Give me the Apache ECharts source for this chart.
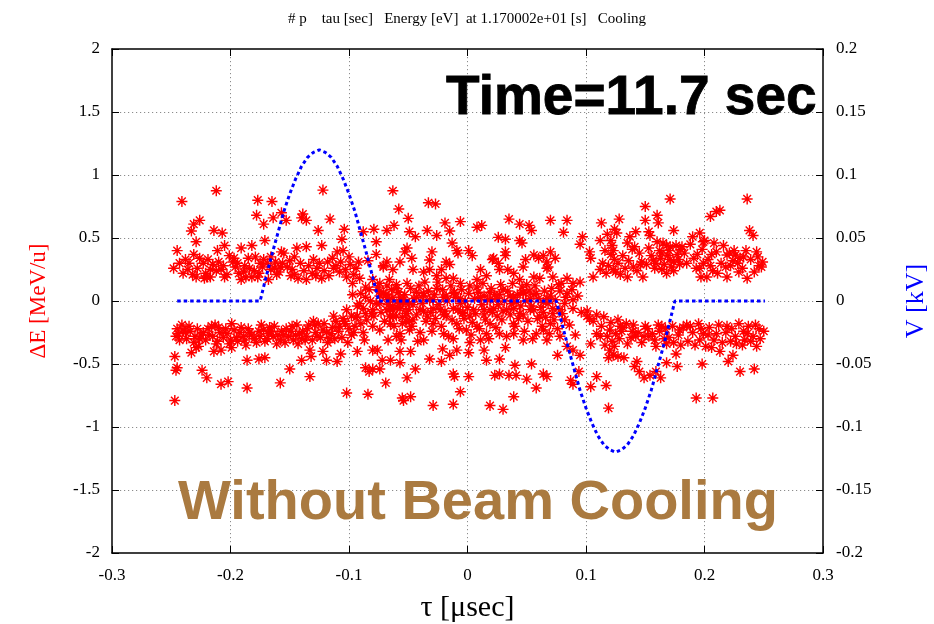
<!DOCTYPE html>
<html>
<head>
<meta charset="utf-8">
<script src="https://cdn.jsdelivr.net/npm/echarts@6/dist/echarts.min.js"></script>
<style>html,body{margin:0;padding:0;background:#fff}#c{width:934px;height:624px}</style>
</head>
<body>
<div id="c"></div>
<script>
// ---- data: [tau (usec), dE (MeV/u)] ----
var leftUpper = [[-0.241,0.79],[-0.212,0.875],[-0.226,0.64],[-0.231,0.61],[-0.233,0.555],[-0.229,0.47],[-0.245,0.40],[-0.231,0.37],[-0.248,0.26],[-0.223,0.30],[-0.228,0.26],[-0.229,0.19],[-0.222,0.18],[-0.217,0.19],[-0.212,0.24],[-0.214,0.56],[-0.207,0.54],[-0.205,0.44],[-0.211,0.40],[-0.198,0.31],[-0.196,0.27],[-0.191,0.42],[-0.185,0.34],[-0.182,0.44],[-0.182,0.19],[-0.177,0.19],[-0.178,0.68],[-0.177,0.80],[-0.165,0.79],[-0.172,0.61],[-0.171,0.48],[-0.157,0.70],[-0.153,0.64],[-0.164,0.66],[-0.139,0.69],[-0.140,0.66],[-0.136,0.64],[-0.122,0.88],[-0.116,0.65],[-0.126,0.56],[-0.104,0.57],[-0.106,0.49],[-0.123,0.44],[-0.136,0.43],[-0.144,0.42],[-0.155,0.38],[-0.157,0.39],[-0.163,0.26],[-0.158,0.27],[-0.148,0.25],[-0.143,0.18],[-0.136,0.17],[-0.127,0.26],[-0.123,0.18],[-0.113,0.26],[-0.110,0.39],[-0.105,0.40],[-0.099,0.29],[-0.094,0.26],[-0.088,0.55],[-0.079,0.57],[-0.068,0.56],[-0.062,0.60],[-0.063,0.875],[-0.058,0.73],[-0.077,0.47],[-0.077,0.37],[-0.071,0.28],[-0.063,0.25],[-0.084,0.32],[-0.172,0.33],[-0.168,0.17],[-0.166,0.25],[-0.187,0.19],[-0.191,0.17],[-0.205,0.19],[-0.208,0.25],[-0.217,0.25],[-0.220,0.19],[-0.102,0.19],[-0.097,0.14],[-0.091,0.18],[-0.086,0.11],[-0.080,0.17],[-0.074,0.14],[-0.066,0.17],[-0.060,0.13],[-0.240,0.22],[-0.235,0.30],[-0.219,0.33],[-0.201,0.36],[-0.193,0.22],[-0.188,0.28],[-0.180,0.24],[-0.175,0.30],[-0.161,0.21],[-0.150,0.32],[-0.146,0.21],[-0.131,0.22],[-0.118,0.31],[-0.108,0.23],
  [-0.243,0.30],[-0.238,0.33],[-0.236,0.25],[-0.232,0.21],[-0.226,0.34],[-0.221,0.22],[-0.215,0.29],[-0.210,0.31],[-0.206,0.28],[-0.203,0.21],[-0.197,0.34],[-0.194,0.30],[-0.189,0.23],[-0.184,0.26],[-0.179,0.35],[-0.176,0.22],[-0.173,0.27],[-0.169,0.30],[-0.166,0.35],[-0.162,0.31],[-0.159,0.23],[-0.156,0.30],[-0.152,0.27],[-0.149,0.20],[-0.146,0.35],[-0.141,0.30],[-0.138,0.24],[-0.134,0.28],[-0.130,0.33],[-0.128,0.20],[-0.125,0.30],[-0.121,0.24],[-0.117,0.20],[-0.114,0.34],[-0.111,0.28],[-0.107,0.31],[-0.103,0.25],[-0.100,0.35],[-0.096,0.21],[-0.092,0.31]];
var leftLower = [[-0.245,-0.22],[-0.240,-0.23],[-0.246,-0.28],[-0.243,-0.31],[-0.238,-0.25],[-0.247,-0.44],[-0.246,-0.55],[-0.245,-0.53],[-0.247,-0.79],[-0.233,-0.41],[-0.229,-0.37],[-0.227,-0.36],[-0.224,-0.55],[-0.220,-0.61],[-0.223,-0.25],[-0.226,-0.30],[-0.216,-0.20],[-0.213,-0.19],[-0.209,-0.25],[-0.214,-0.40],[-0.208,-0.39],[-0.208,-0.66],[-0.202,-0.64],[-0.199,-0.18],[-0.200,-0.31],[-0.199,-0.37],[-0.192,-0.25],[-0.187,-0.35],[-0.189,-0.28],[-0.186,-0.47],[-0.186,-0.69],[-0.184,-0.25],[-0.176,-0.24],[-0.176,-0.46],[-0.171,-0.45],[-0.171,-0.32],[-0.167,-0.21],[-0.164,-0.28],[-0.161,-0.34],[-0.158,-0.31],[-0.158,-0.65],[-0.155,-0.27],[-0.150,-0.54],[-0.147,-0.31],[-0.144,-0.19],[-0.140,-0.30],[-0.140,-0.47],[-0.137,-0.31],[-0.133,-0.60],[-0.133,-0.39],[-0.132,-0.44],[-0.130,-0.16],[-0.129,-0.19],[-0.126,-0.18],[-0.122,-0.23],[-0.122,-0.40],[-0.119,-0.47],[-0.116,-0.30],[-0.111,-0.16],[-0.108,-0.20],[-0.107,-0.42],[-0.110,-0.48],[-0.105,-0.14],[-0.102,-0.73],[-0.096,-0.25],[-0.093,-0.12],[-0.093,-0.40],[-0.090,-0.18],[-0.087,-0.31],[-0.086,-0.53],[-0.083,-0.56],[-0.080,-0.54],[-0.084,-0.74],[-0.080,-0.39],[-0.076,-0.39],[-0.074,-0.54],[-0.069,-0.65],[-0.065,-0.47],[-0.060,-0.28],[-0.056,-0.31],[-0.052,-0.16],[-0.048,-0.40],[-0.048,-0.76],[-0.235,-0.20],[-0.230,-0.28],[-0.218,-0.27],[-0.211,-0.32],[-0.204,-0.22],[-0.195,-0.29],[-0.180,-0.30],[-0.174,-0.19],[-0.168,-0.26],[-0.153,-0.22],[-0.149,-0.24],[-0.142,-0.26],[-0.135,-0.22],[-0.127,-0.28],[-0.119,-0.25],[-0.114,-0.21],[-0.100,-0.22],
  [-0.244,-0.26],[-0.241,-0.19],[-0.237,-0.30],[-0.234,-0.24],[-0.231,-0.33],[-0.228,-0.22],[-0.225,-0.27],[-0.221,-0.31],[-0.219,-0.22],[-0.215,-0.28],[-0.212,-0.34],[-0.210,-0.21],[-0.206,-0.29],[-0.203,-0.26],[-0.201,-0.34],[-0.197,-0.23],[-0.194,-0.32],[-0.191,-0.21],[-0.188,-0.31],[-0.185,-0.22],[-0.182,-0.27],[-0.178,-0.33],[-0.175,-0.28],[-0.172,-0.23],[-0.169,-0.30],[-0.166,-0.24],[-0.163,-0.20],[-0.160,-0.27],[-0.157,-0.24],[-0.154,-0.33],[-0.151,-0.28],[-0.148,-0.20],[-0.145,-0.27],[-0.143,-0.34],[-0.139,-0.24],[-0.136,-0.28],[-0.134,-0.19],[-0.131,-0.31],[-0.128,-0.25],[-0.124,-0.29],[-0.121,-0.18],[-0.118,-0.33],[-0.115,-0.26],[-0.112,-0.30],[-0.109,-0.24],[-0.106,-0.29],[-0.103,-0.18],[-0.101,-0.33],[-0.098,-0.27],[-0.095,-0.20]];
var centreLeft = [[-0.093,-0.04],[-0.086,-0.10],[-0.080,-0.07],[-0.074,-0.02],[-0.069,0.05],[-0.066,0.01],[-0.063,-0.04],[-0.057,0.03],[-0.052,-0.02],[-0.052,-0.10],[-0.049,-0.16],[-0.055,-0.18],[-0.060,-0.12],[-0.098,-0.12],[-0.104,-0.16],[-0.088,-0.25],[-0.080,-0.20],[-0.083,0.09],[-0.074,0.08],[-0.097,0.05],[-0.113,-0.12],[-0.102,-0.07],[-0.091,-0.02],[-0.086,0.03],[-0.077,-0.02],[-0.068,0.03],[-0.063,-0.07],[-0.057,-0.02],[-0.081,-0.10],[-0.094,-0.13],[-0.066,-0.12]];
var middleUpper = [[-0.050,0.656],[-0.033,0.78],[-0.027,0.77],[-0.049,0.55],[-0.044,0.51],[-0.034,0.56],[-0.026,0.52],[-0.019,0.62],[-0.015,0.555],[-0.006,0.63],[0.008,0.585],[0.012,0.60],[0.026,0.505],[0.032,0.49],[0.035,0.65],[0.044,0.61],[0.052,0.60],[0.054,0.56],[0.070,0.64],[0.084,0.64],[0.081,0.545],[0.044,0.48],[0.046,0.46],[0.097,0.51],[0.095,0.45],[-0.051,0.42],[-0.053,0.39],[-0.047,0.34],[-0.030,0.39],[-0.032,0.325],[-0.013,0.46],[-0.009,0.40],[-0.008,0.38],[-0.018,0.31],[-0.015,0.29],[0.001,0.40],[0.004,0.36],[0.022,0.34],[0.032,0.39],[0.032,0.36],[0.026,0.30],[0.034,0.25],[0.049,0.33],[0.047,0.27],[0.056,0.365],[0.060,0.34],[0.064,0.36],[0.067,0.31],[0.070,0.39],[0.074,0.34],[0.067,0.26],[0.068,0.27],[-0.068,0.31],[-0.071,0.27],[-0.057,0.31],[-0.046,0.25],[-0.037,0.23],[-0.032,0.25],[-0.026,0.20],[-0.022,0.25],[-0.018,0.18],[-0.012,0.18],[-0.006,0.14],[0.011,0.25],[0.008,0.17],[0.016,0.20],[0.021,0.33],[0.027,0.25],[0.039,0.22],[0.044,0.17],[0.050,0.13],[0.056,0.19],[0.061,0.18],[0.072,0.19],[0.079,0.14],[0.084,0.18],[0.089,0.14],[0.095,0.15],[0.078,0.08],[0.084,0.06],[0.089,0.01],[0.082,-0.02],[0.089,-0.06],[-0.068,0.12],[-0.060,0.10],[-0.051,0.14],[-0.043,0.07],[-0.037,0.04],[-0.032,0.01],[-0.026,0.10],[-0.018,0.04],[-0.011,0.07],[-0.006,0.02],[0.001,0.06],[0.008,0.11],[0.014,0.04],[0.019,0.07],[0.025,0.02],[0.030,0.09],[0.036,0.04],[0.041,-0.01],[0.047,0.07],[0.053,0.02],[0.058,0.06],[0.064,-0.01],[0.070,0.04],[0.103,0.39],[0.104,0.34],[0.106,0.19]];
var middleLower = [[-0.046,-0.03],[-0.037,-0.08],[-0.029,-0.06],[-0.020,-0.11],[-0.012,-0.06],[-0.004,-0.09],[0.005,-0.07],[0.014,-0.11],[0.022,-0.06],[0.030,-0.08],[0.039,-0.06],[0.047,-0.11],[0.056,-0.07],[0.064,-0.09],[0.072,-0.06],[-0.057,-0.01],[-0.065,-0.06],[-0.074,0.04],[0.101,-0.08],[0.109,-0.11],[-0.068,-0.07],[-0.063,-0.12],[-0.057,-0.06],[-0.051,-0.10],[-0.046,-0.15],[-0.040,-0.07],[-0.034,-0.12],[-0.029,-0.18],[-0.043,0.03],[-0.037,0.06],[-0.029,0.01],[-0.020,0.03],[-0.012,0.06],[-0.006,-0.02],[-0.009,-0.18],[0.002,-0.12],[0.008,-0.20],[0.014,-0.07],[0.019,-0.18],[0.025,-0.12],[0.027,-0.26],[0.011,0.03],[0.019,0.01],[0.027,0.05],[0.039,0.03],[0.047,0.06],[0.056,0.05],[0.067,0.02],[0.039,-0.18],[0.047,-0.31],[0.058,-0.26],[0.064,-0.23],[0.070,-0.18],[0.078,-0.28],[0.084,-0.36],[0.089,-0.39],[0.095,-0.43],[-0.074,-0.23],[-0.067,-0.31],[-0.057,-0.40],[-0.057,-0.49],[-0.051,-0.61],[-0.044,-0.54],[-0.042,-0.32],[-0.032,-0.46],[-0.022,-0.48],[-0.021,-0.38],[-0.015,-0.43],[-0.012,-0.30],[-0.012,-0.58],[-0.011,-0.60],[-0.006,-0.72],[0.001,-0.41],[0.001,-0.60],[0.002,-0.33],[0.014,-0.39],[0.016,-0.47],[0.023,-0.59],[0.027,-0.58],[0.035,-0.59],[0.041,-0.59],[0.040,-0.51],[0.032,-0.37],[0.050,-0.62],[0.054,-0.50],[0.058,-0.69],[0.064,-0.58],[0.067,-0.60],[0.076,-0.43],[0.087,-0.63],[0.094,-0.56],[0.089,-0.66],[-0.055,-0.77],[-0.054,-0.79],[-0.029,-0.83],[-0.012,-0.82],[0.019,-0.83],[0.030,-0.86],[0.039,-0.76],[0.103,-0.14],[0.104,-0.34],[0.109,-0.60],[0.104,-0.68],[0.101,-0.12],[0.106,-0.16],[0.109,-0.26],[0.078,-0.07],[0.082,-0.15],[-0.063,0.03],[-0.054,0.01],[-0.049,-0.02],[-0.023,-0.07],[-0.018,-0.12],[-0.004,-0.10],[0.019,-0.07],[0.033,-0.07],[0.044,-0.10],[0.053,-0.07],[0.061,-0.12],[0.072,-0.10],[0.067,-0.31],[-0.020,-0.26],[-0.037,-0.31],[-0.057,-0.26],[-0.049,-0.23],[-0.065,-0.18],[-0.001,-0.23],[0.011,-0.31],[0.016,-0.26],[0.039,-0.26],[0.027,-0.46],[-0.009,-0.39],[-0.072,-0.47]];
var middleDense = [[-0.090,0.06],[-0.088,-0.06],[-0.085,-0.15],[-0.082,0.00],[-0.079,-0.12],[-0.076,0.11],[-0.073,-0.09],[-0.071,0.06],[-0.070,-0.16],[-0.067,-0.03],[-0.064,0.09],[-0.062,-0.20],[-0.059,-0.05],[-0.058,0.07],[-0.055,-0.13],[-0.053,0.05],[-0.050,-0.07],[-0.048,0.10],[-0.047,-0.20],[-0.045,0.02],[-0.043,-0.11],[-0.041,0.12],[-0.040,-0.25],[-0.038,-0.02],[-0.036,0.15],[-0.035,-0.16],[-0.033,0.08],[-0.031,-0.09],[-0.030,-0.24],[-0.028,0.05],[-0.027,-0.14],[-0.025,0.15],[-0.024,-0.03],[-0.022,-0.20],[-0.021,0.09],[-0.019,-0.08],[-0.017,0.00],[-0.016,-0.28],[-0.014,0.12],[-0.013,-0.15],[-0.010,0.03],[-0.008,-0.07],[-0.007,-0.22],[-0.005,0.09],[-0.003,-0.14],[-0.002,0.00],[0.000,-0.05],[0.002,0.12],[0.003,-0.27],[0.004,-0.17],[0.006,0.02],[0.007,-0.10],[0.009,0.07],[0.010,-0.22],[0.012,-0.03],[0.013,0.14],[0.015,-0.15],[0.017,0.01],[0.018,-0.30],[0.020,0.10],[0.021,-0.09],[0.023,0.05],[0.024,-0.21],[0.026,-0.03],[0.028,0.13],[0.029,-0.15],[0.031,0.00],[0.033,-0.28],[0.034,0.08],[0.036,-0.11],[0.037,-0.02],[0.038,0.14],[0.040,-0.20],[0.042,0.05],[0.043,-0.14],[0.045,-0.04],[0.046,0.11],[0.048,-0.24],[0.049,0.00],[0.051,-0.16],[0.052,0.08],[0.054,-0.04],[0.055,-0.30],[0.057,0.12],[0.059,-0.14],[0.060,0.02],[0.062,-0.05],[0.063,-0.20],[0.065,0.08],[0.066,-0.13],[0.068,-0.02],[0.069,-0.26],[0.071,0.10],[0.073,-0.15],[0.074,0.01],[0.076,-0.22],[0.077,0.13],[0.080,-0.10],[0.083,0.03],[0.086,-0.19],[0.088,0.09],[0.091,-0.27],[0.093,0.04],[0.096,-0.09]];
var rightUpper = [[0.171,0.81],[0.236,0.81],[0.150,0.75],[0.205,0.67],[0.210,0.71],[0.213,0.72],[0.128,0.65],[0.150,0.64],[0.160,0.68],[0.161,0.62],[0.174,0.56],[0.113,0.62],[0.118,0.53],[0.124,0.57],[0.126,0.54],[0.121,0.48],[0.112,0.48],[0.137,0.51],[0.142,0.55],[0.135,0.46],[0.141,0.43],[0.153,0.55],[0.154,0.52],[0.153,0.42],[0.160,0.47],[0.165,0.46],[0.168,0.44],[0.171,0.43],[0.170,0.40],[0.164,0.38],[0.163,0.34],[0.177,0.37],[0.180,0.41],[0.181,0.43],[0.174,0.31],[0.171,0.33],[0.190,0.51],[0.196,0.54],[0.199,0.47],[0.200,0.48],[0.208,0.46],[0.194,0.37],[0.206,0.37],[0.199,0.30],[0.205,0.28],[0.219,0.365],[0.221,0.38],[0.226,0.365],[0.230,0.34],[0.233,0.35],[0.224,0.32],[0.238,0.56],[0.241,0.52],[0.244,0.39],[0.246,0.28],[0.248,0.27],[0.218,0.27],[0.211,0.22],[0.202,0.19],[0.196,0.26],[0.197,0.19],[0.229,0.23],[0.236,0.18],[0.219,0.19],[0.112,0.25],[0.117,0.22],[0.123,0.25],[0.129,0.21],[0.135,0.19],[0.140,0.27],[0.146,0.29],[0.148,0.19],[0.157,0.325],[0.158,0.26],[0.164,0.25],[0.168,0.22],[0.174,0.24],[0.179,0.29],[0.123,0.40],[0.124,0.33],[0.121,0.37],
  [0.114,0.30],[0.116,0.40],[0.119,0.28],[0.122,0.44],[0.125,0.23],[0.127,0.30],[0.131,0.36],[0.133,0.26],[0.136,0.32],[0.139,0.41],[0.143,0.24],[0.145,0.38],[0.147,0.31],[0.151,0.29],[0.155,0.36],[0.159,0.30],[0.162,0.40],[0.166,0.29],[0.169,0.36],[0.172,0.27],[0.176,0.44],[0.178,0.33],[0.183,0.38],[0.185,0.30],[0.188,0.45],[0.191,0.34],[0.193,0.26],[0.198,0.41],[0.203,0.33],[0.207,0.24],[0.210,0.39],[0.214,0.30],[0.216,0.44],[0.222,0.28],[0.225,0.40],[0.228,0.30],[0.232,0.26],[0.235,0.40],[0.239,0.33],[0.242,0.23],[0.245,0.35],[0.249,0.31]];
var rightLower = [[0.115,-0.125],[0.127,-0.15],[0.134,-0.18],[0.129,-0.20],[0.120,-0.23],[0.125,-0.26],[0.130,-0.24],[0.139,-0.24],[0.142,-0.28],[0.112,-0.28],[0.116,-0.35],[0.120,-0.39],[0.123,-0.43],[0.119,-0.45],[0.127,-0.44],[0.132,-0.45],[0.122,-0.32],[0.152,-0.22],[0.161,-0.19],[0.164,-0.20],[0.153,-0.28],[0.149,-0.28],[0.159,-0.36],[0.166,-0.30],[0.168,-0.34],[0.173,-0.20],[0.179,-0.23],[0.185,-0.19],[0.188,-0.20],[0.180,-0.35],[0.176,-0.42],[0.197,-0.22],[0.196,-0.31],[0.203,-0.27],[0.210,-0.26],[0.201,-0.36],[0.206,-0.37],[0.213,-0.40],[0.219,-0.20],[0.222,-0.32],[0.224,-0.43],[0.220,-0.48],[0.227,-0.34],[0.233,-0.24],[0.237,-0.20],[0.234,-0.31],[0.241,-0.28],[0.246,-0.22],[0.244,-0.36],[0.230,-0.56],[0.242,-0.54],[0.198,-0.50],[0.177,-0.52],[0.168,-0.49],[0.163,-0.61],[0.159,-0.56],[0.154,-0.59],[0.149,-0.61],[0.143,-0.48],[0.141,-0.52],[0.145,-0.56],[0.117,-0.67],[0.119,-0.85],[0.193,-0.77],[0.207,-0.77],
  [0.113,-0.20],[0.118,-0.28],[0.121,-0.17],[0.124,-0.36],[0.128,-0.30],[0.131,-0.21],[0.135,-0.34],[0.138,-0.29],[0.140,-0.19],[0.144,-0.25],[0.147,-0.33],[0.150,-0.20],[0.156,-0.26],[0.158,-0.31],[0.162,-0.24],[0.167,-0.22],[0.170,-0.29],[0.174,-0.33],[0.178,-0.27],[0.182,-0.21],[0.186,-0.32],[0.190,-0.25],[0.192,-0.35],[0.195,-0.18],[0.199,-0.26],[0.204,-0.21],[0.208,-0.31],[0.212,-0.19],[0.215,-0.33],[0.218,-0.25],[0.223,-0.22],[0.226,-0.28],[0.229,-0.18],[0.232,-0.35],[0.236,-0.26],[0.239,-0.32],[0.243,-0.19],[0.247,-0.30],[0.250,-0.24]];

// ---- RF voltage: tau (usec), V (kV) ----
var vTau = [-0.245,-0.21,-0.175,-0.170,-0.165,-0.160,-0.155,-0.150,-0.145,-0.140,-0.135,-0.130,-0.125,-0.120,-0.115,-0.110,-0.105,-0.100,-0.095,-0.090,-0.085,-0.080,-0.075,-0.04,0,0.04,0.075,0.080,0.085,0.090,0.095,0.100,0.105,0.110,0.115,0.120,0.125,0.130,0.135,0.140,0.145,0.150,0.155,0.160,0.165,0.170,0.175,0.21,0.251];
var vKV  = [0,0,0,0.019,0.037,0.054,0.071,0.085,0.097,0.107,0.114,0.118,0.120,0.118,0.114,0.107,0.097,0.085,0.071,0.054,0.037,0.019,0,0,0,0,0,-0.019,-0.037,-0.054,-0.071,-0.085,-0.097,-0.107,-0.114,-0.118,-0.120,-0.118,-0.114,-0.107,-0.097,-0.085,-0.071,-0.054,-0.037,-0.019,0,0,0];

// ---- axis ticks ----
var xTicks = [-0.3,-0.2,-0.1,0,0.1,0.2,0.3];
var dETicks = [-2,-1.5,-1,-0.5,0,0.5,1,1.5,2];
var vTicks = [-0.2,-0.15,-0.1,-0.05,0,0.05,0.1,0.15,0.2];

var scatterData = [].concat(leftUpper, leftLower, centreLeft, middleUpper, middleLower, middleDense, rightUpper, rightLower);
var lineData = vTau.map(function (t, i) { return [t, vKV[i]]; });

var star = 'path://M0 8.7L20 8.7L20 11.3L0 11.3Z M8.7 0L11.3 0L11.3 20L8.7 20Z M2.1 3.9L3.9 2.1L17.9 16.1L16.1 17.9Z M16.1 2.1L17.9 3.9L3.9 17.9L2.1 16.1Z';
var serif = '"Liberation Serif", "DejaVu Serif", serif';
var fmt = function (d) { return function (v) { var r = Math.round(v * d) / d; return String(r); }; };
var gridLine = { show: true, lineStyle: { color: '#8c8c8c', type: [1.2, 2.8], width: 1 }, showMinLine: false, showMaxLine: false };

var chart = echarts.init(document.getElementById('c'), null, { renderer: 'canvas' });
chart.setOption({
  animation: false,
  backgroundColor: '#fff',
  title: {
    text: '# p    tau [sec]   Energy [eV]  at 1.170002e+01 [s]   Cooling',
    left: 'center', top: 7,
    textStyle: { fontFamily: serif, fontSize: 15, fontWeight: 'normal', color: '#000' }
  },
  grid: { left: 112, right: 111, top: 49, bottom: 71, containLabel: false, outerBoundsMode: 'none' },
  xAxis: [{
    type: 'value', min: xTicks[0], max: xTicks[xTicks.length - 1], interval: 0.1, position: 'bottom',
    name: 'τ [μsec]', nameLocation: 'middle', nameGap: 40,
    nameTextStyle: { fontFamily: serif, fontSize: 30, color: '#000' },
    axisLine: { show: true, onZero: false, lineStyle: { color: '#000', width: 1.5 } },
    axisTick: { show: true, inside: true, length: 7, lineStyle: { color: '#000' } },
    axisLabel: { fontFamily: serif, fontSize: 17, color: '#000', margin: 14, formatter: fmt(10) },
    splitLine: gridLine
  }, {
    type: 'value', min: xTicks[0], max: xTicks[xTicks.length - 1], interval: 0.1, position: 'top',
    axisLine: { show: true, onZero: false, lineStyle: { color: '#000', width: 1.5 } },
    axisTick: { show: true, inside: true, length: 7, lineStyle: { color: '#000' } },
    axisLabel: { show: false }, splitLine: { show: false }
  }],
  yAxis: [{
    type: 'value', min: dETicks[0], max: dETicks[dETicks.length - 1], interval: 0.5, position: 'left',
    name: 'ΔE [MeV/u]', nameLocation: 'middle', nameGap: 62, nameRotate: 90,
    nameTextStyle: { fontFamily: serif, fontSize: 23, color: '#ff0000' },
    axisLine: { show: true, onZero: false, lineStyle: { color: '#000', width: 1.5 } },
    axisTick: { show: true, inside: true, length: 7, lineStyle: { color: '#000' } },
    axisLabel: { fontFamily: serif, fontSize: 17, color: '#000', margin: 12, formatter: fmt(10) },
    splitLine: gridLine
  }, {
    type: 'value', min: vTicks[0], max: vTicks[vTicks.length - 1], interval: 0.05, position: 'right',
    name: 'V [kV]', nameLocation: 'middle', nameGap: 80, nameRotate: 90,
    nameTextStyle: { fontFamily: serif, fontSize: 26, color: '#0000ff' },
    axisLine: { show: true, onZero: false, lineStyle: { color: '#000', width: 1.5 } },
    axisTick: { show: true, inside: true, length: 7, lineStyle: { color: '#000' } },
    axisLabel: { fontFamily: serif, fontSize: 17, color: '#000', margin: 13, formatter: fmt(100) },
    splitLine: { show: false }
  }],
  series: [{
    type: 'scatter', xAxisIndex: 0, yAxisIndex: 0, data: scatterData,
    symbol: star, symbolSize: 11,
    itemStyle: { color: '#ff0000', opacity: 1 }, silent: true, z: 2
  }, {
    type: 'line', xAxisIndex: 0, yAxisIndex: 1, data: lineData,
    showSymbol: false, symbol: 'none', smooth: false,
    lineStyle: { color: '#0000ff', width: 3, type: [3.5, 3] }, silent: true, z: 3
  }],
  graphic: [{
    type: 'text', right: 934 - 817, top: 71, z: 100,
    style: { text: 'Time=11.7 sec', font: 'bold 55px "Liberation Sans", Arial, sans-serif', fill: '#000', stroke: '#000', lineWidth: 0.8 }
  }, {
    type: 'text', left: 178, top: 476, z: 100,
    style: { text: 'Without Beam Cooling', font: 'bold 56px "Liberation Sans", Arial, sans-serif', fill: '#aa7a40' }
  }]
});
</script>
</body>
</html>
